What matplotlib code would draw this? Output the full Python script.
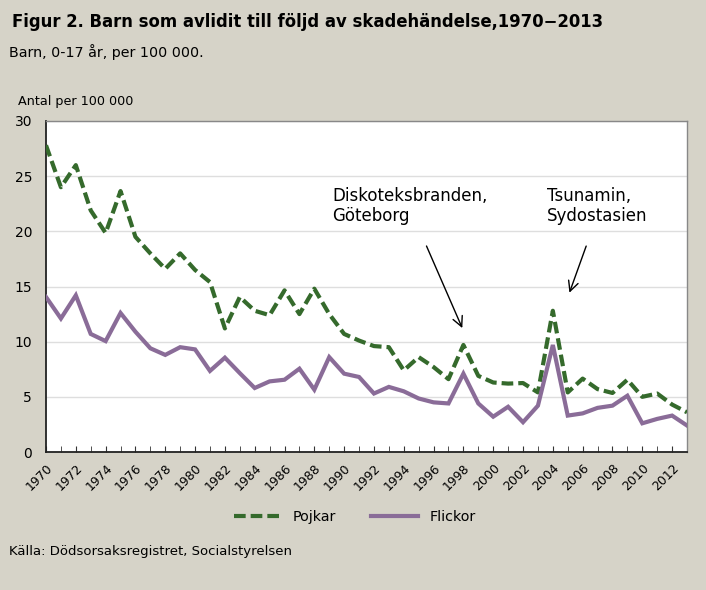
import matplotlib
matplotlib.use("Agg")
import matplotlib.pyplot as plt
from matplotlib.lines import Line2D

years = list(range(1970, 2014))
pojkar = [27.8, 24.0, 26.0, 21.9, 19.85, 23.65, 19.5, 18.0, 16.6, 18.0,
          16.5, 15.4, 11.2, 14.05, 12.8, 12.4, 14.65, 12.5, 14.8, 12.5,
          10.7, 10.1, 9.6, 9.5, 7.4, 8.6, 7.7, 6.6, 9.7, 6.9,
          6.3, 6.2, 6.25, 5.4, 12.8, 5.4, 6.65, 5.7, 5.35, 6.55,
          5.0, 5.3, 4.3, 3.6]
flickor = [14.05, 12.1, 14.2, 10.7, 10.05, 12.6, 10.9, 9.4, 8.8, 9.5,
           9.3, 7.35, 8.55, 7.15, 5.8, 6.4, 6.55, 7.55, 5.65, 8.6,
           7.1, 6.8, 5.3, 5.9, 5.5, 4.85, 4.5, 4.4, 7.1, 4.4,
           3.2, 4.1, 2.7, 4.2, 9.7, 3.3, 3.5, 4.0, 4.2, 5.1,
           2.6, 3.0, 3.3, 2.4]
yticks = [0, 5, 10, 15, 20, 25, 30]
xlabels = [str(y) for y in range(1970, 2013, 2)]

title = "Figur 2. Barn som avlidit till följd av skadehändelse,1970\u22122013"
subtitle = "Barn, 0-17 år, per 100 000."
ylabel = "Antal per 100 000"
source = "Källa: Dödsorsaksregistret, Socialstyrelsen"

bg = "#d6d3c8"
green = "#356a2c"
purple = "#8a6c98"
font = ["DejaVu Sans"]
dash = (0, (2.8, 1.2))

plt.rcParams["font.family"] = font
fig = plt.figure(figsize=(7.06, 5.90), dpi=100, facecolor=bg)
ax = fig.add_axes([46/706, 1-452/590, (687-46)/706, (452-121)/590])
ax.set_facecolor("white")

ax.plot(years, pojkar, color=green, lw=3.0, ls=dash, dash_capstyle="butt", zorder=3)
ax.plot(years, flickor, color=purple, lw=3.0, solid_joinstyle="miter", zorder=3)

ax.set_xlim(years[0], years[-1])
ax.set_ylim(0, 30)
ax.set_yticks(yticks)
ax.set_yticklabels([str(v) for v in yticks], fontsize=10)
ax.yaxis.grid(True, color="#dedede", lw=1)
ax.set_axisbelow(True)
ax.tick_params(axis="y", length=0, pad=10)

ax.set_xticks(years, minor=True)
ax.set_xticks(list(range(1970, 2013, 2)))
ax.set_xticklabels(xlabels, rotation=45, ha="right", va="top", rotation_mode="anchor", fontsize=9)
ax.tick_params(axis="x", which="both", direction="in", length=4, color="#333333", pad=7)

for s in ["left", "bottom"]:
    ax.spines[s].set_color("#222222")
    ax.spines[s].set_linewidth(1.3)
for s in ["top", "right"]:
    ax.spines[s].set_color("#888888")
    ax.spines[s].set_linewidth(1.0)

ax.text(1989.2, 22.3, "Diskoteksbranden,\nGöteborg", fontsize=12, va="center", ha="left", linespacing=1.2)
ax.text(2003.6, 22.3, "Tsunamin,\nSydostasien", fontsize=12, va="center", ha="left", linespacing=1.2)
ax.annotate("", xy=(1998.0, 11.0), xytext=(1995.45, 18.9),
            arrowprops=dict(arrowstyle="->", color="black", lw=1.0, mutation_scale=18))
ax.annotate("", xy=(2005.05, 14.2), xytext=(2006.3, 18.9),
            arrowprops=dict(arrowstyle="->", color="black", lw=1.0, mutation_scale=18))

fig.text(12/706, 1-22/590, title, fontsize=11.9, fontweight="bold", va="center", ha="left")
fig.text(9/706, 1-52/590, subtitle, fontsize=10.3, va="center", ha="left")
fig.text(18/706, 1-101/590, ylabel, fontsize=9.2, va="center", ha="left")
fig.text(9/706, 1-551/590, source, fontsize=9.5, va="center", ha="left")

handles = [Line2D([0], [0], color=green, lw=3.0, ls=dash, dash_capstyle="butt"),
           Line2D([0], [0], color=purple, lw=3.0)]
fig.legend(handles, ["Pojkar", "Flickor"], loc="center", bbox_to_anchor=(355/706, 1-517/590),
           ncol=2, frameon=False, fontsize=10.3, handlelength=3.3, columnspacing=2.4, handletextpad=0.8)

fig.savefig("out.png", dpi=100, facecolor=bg)
